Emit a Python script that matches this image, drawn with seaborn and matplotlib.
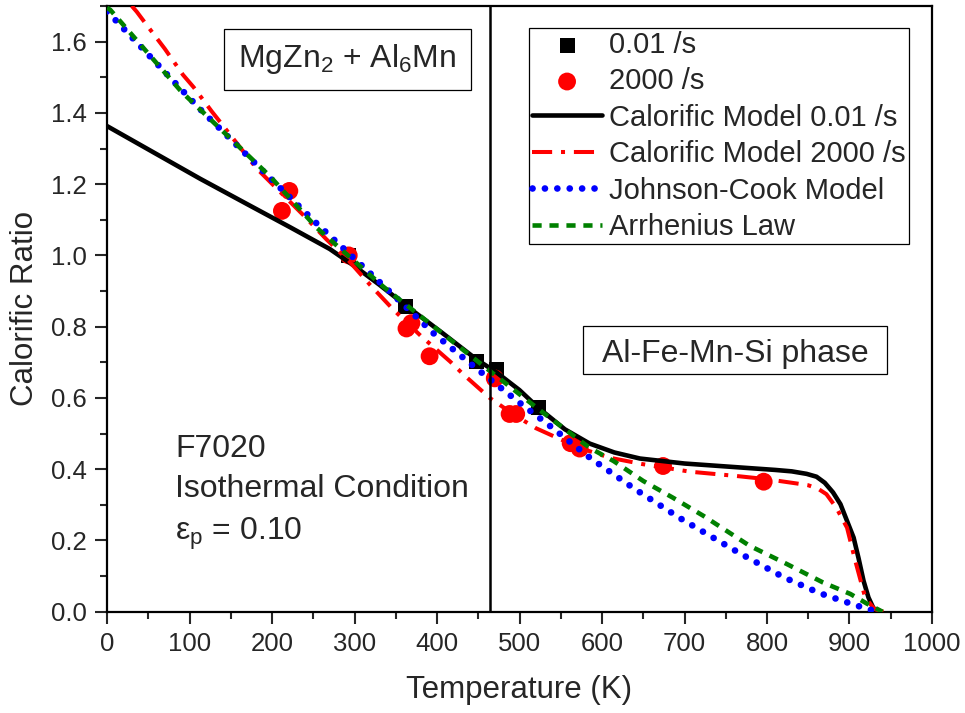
import numpy as np
import pandas as pd
import matplotlib
matplotlib.use("Agg")
import matplotlib.pyplot as plt
from matplotlib.patches import Rectangle
from matplotlib.ticker import MultipleLocator, FormatStrFormatter
import seaborn as sns

# experimental points
T_lo = [293, 362, 448, 472, 523]
r_lo = [1.0, 0.857, 0.703, 0.680, 0.572]
T_hi = [212, 221, 293, 363, 369, 391, 470, 488, 496, 562, 573, 674, 796]
r_hi = [1.125, 1.181, 1.0, 0.795, 0.81, 0.717, 0.655, 0.555, 0.555, 0.473, 0.458, 0.409, 0.365]

# calorific model 0.01 /s
T_cal1 = [0, 113, 173, 222, 270, 300, 330, 363, 405, 448, 472, 500, 523, 555, 585, 615,
          646, 700, 767, 810, 830, 848, 860, 870, 880, 889, 897, 905, 911, 917, 923, 929, 937]
r_cal1 = [1.363, 1.215, 1.140, 1.079, 1.018, 0.970, 0.918, 0.858, 0.785, 0.708, 0.672, 0.622,
          0.572, 0.512, 0.472, 0.447, 0.430, 0.416, 0.405, 0.398, 0.394, 0.387, 0.379, 0.362,
          0.335, 0.302, 0.255, 0.208, 0.150, 0.087, 0.040, 0.010, 0.0]

# calorific model 2000 /s
T_cal2 = [30, 36, 47, 70, 92, 105, 127, 139, 181, 238, 266, 293, 319, 347, 380, 416, 432, 464,
          492, 520, 541, 575, 610, 650, 707, 763, 800, 836, 850, 862, 872, 884, 897, 907, 919,
          930, 941]
r_cal2 = [1.70, 1.684, 1.650, 1.580, 1.507, 1.472, 1.404, 1.369, 1.245, 1.113, 1.045, 0.985,
          0.917, 0.848, 0.775, 0.702, 0.666, 0.600, 0.555, 0.515, 0.493, 0.458, 0.432, 0.414,
          0.393, 0.381, 0.372, 0.360, 0.355, 0.345, 0.330, 0.292, 0.236, 0.143, 0.040, 0.008,
          0.0]

# Johnson-Cook
T_jc = [0, 10, 113, 196, 254, 337, 396, 446, 497, 535, 586, 640, 695, 767, 820, 864, 909, 923, 932]
r_jc = [1.685, 1.661, 1.41, 1.221, 1.090, 0.911, 0.781, 0.686, 0.592, 0.525, 0.431, 0.344,
        0.262, 0.164, 0.097, 0.052, 0.017, 0.008, 0.0]

# Arrhenius
T_arr = [0, 4, 90, 198, 254, 335, 448, 525, 585, 614, 650, 686, 723, 779, 824, 868, 901, 921, 940]
r_arr = [1.695, 1.689, 1.46, 1.221, 1.078, 0.912, 0.705, 0.565, 0.46, 0.423, 0.367, 0.32,
         0.269, 0.185, 0.134, 0.082, 0.050, 0.023, 0.0]

T_split = 464

sns.set_style("ticks")
plt.rcParams['font.family'] = ['Liberation Sans', 'DejaVu Sans']
plt.rcParams['mathtext.fontset'] = 'custom'
plt.rcParams['mathtext.rm'] = 'Liberation Sans'
plt.rcParams['mathtext.it'] = 'Liberation Sans:italic'

fig, ax = plt.subplots(figsize=(9.65, 7.13), dpi=100)
fig.subplots_adjust(left=0.1109, right=0.9658, bottom=0.142, top=0.9916)

sns.scatterplot(x=T_lo, y=r_lo, marker='s', s=115, color='black', edgecolor='none',
                label='0.01 /s', ax=ax, zorder=2)
sns.scatterplot(x=T_hi, y=r_hi, marker='o', s=165, color='red', edgecolor='none',
                label='2000 /s', ax=ax, zorder=3)
sns.lineplot(x=T_cal1, y=r_cal1, color='black', linewidth=3.3, sort=False, estimator=None,
             label='Calorific Model 0.01 /s', ax=ax, zorder=4)
sns.lineplot(x=T_cal2, y=r_cal2, color='red', linewidth=2.9, sort=False, estimator=None,
             linestyle=(0, (5, 2.2, 1, 2.2)), label='Calorific Model 2000 /s', ax=ax, zorder=5)
sns.lineplot(x=T_jc, y=r_jc, color='blue', linewidth=4.8, sort=False, estimator=None,
             linestyle=(0, (0.01, 1.85)), dash_capstyle='round',
             label='Johnson-Cook Model', ax=ax, zorder=6)
sns.lineplot(x=T_arr, y=r_arr, color='green', linewidth=3.3, sort=False, estimator=None,
             linestyle=(0, (2, 1.7)), label='Arrhenius Law', ax=ax, zorder=7)
ax.axvline(T_split, color='black', lw=1.8, zorder=8)

ax.set_xlim(0, 1000)
ax.set_ylim(0, 1.7)
ax.xaxis.set_major_locator(MultipleLocator(100))
ax.xaxis.set_minor_locator(MultipleLocator(50))
ax.yaxis.set_major_locator(MultipleLocator(0.2))
ax.yaxis.set_minor_locator(MultipleLocator(0.1))
ax.yaxis.set_major_formatter(FormatStrFormatter('%.1f'))
ax.tick_params(which='major', direction='out', length=8.6, width=1.5, labelsize=18.5, pad=6)
ax.tick_params(which='minor', direction='out', length=5, width=1.5)
for sp in ax.spines.values():
    sp.set_linewidth(1.6)
    sp.set_color('black')

ax.set_xlabel('Temperature (K)', fontsize=22.5, labelpad=14)
ax.set_ylabel('Calorific Ratio', fontsize=22.5, labelpad=8)

handles, labels = ax.get_legend_handles_labels()
leg = ax.legend(handles, labels, loc='upper right', bbox_to_anchor=(0.972, 0.964),
                fontsize=21, frameon=True, fancybox=False, framealpha=1,
                edgecolor='black', borderpad=0.1, labelspacing=0.29,
                handlelength=2.4, handletextpad=0.25, borderaxespad=0)
leg.get_frame().set_linewidth(0.9)
leg.set_zorder(20)

# phase boxes
ax.add_patch(Rectangle((0.1418, 0.861), 0.2994, 0.101, transform=ax.transAxes,
                       fill=False, edgecolor='black', lw=0.9, zorder=9))
ax.text(0.2915, 0.899, 'MgZn$_\\mathregular{2}$ + Al$_\\mathregular{6}$Mn', transform=ax.transAxes,
        ha='center', va='baseline', fontsize=23)
ax.add_patch(Rectangle((0.577, 0.3924), 0.3685, 0.0793, transform=ax.transAxes,
                       fill=False, edgecolor='black', lw=0.9, zorder=9))
ax.text(0.761, 0.412, 'Al-Fe-Mn-Si phase', transform=ax.transAxes,
        ha='center', va='baseline', fontsize=23)

ax.text(0.0824, 0.256, 'F7020', transform=ax.transAxes, va='baseline', fontsize=23)
ax.text(0.0824, 0.190, 'Isothermal Condition', transform=ax.transAxes, va='baseline', fontsize=23)
ax.text(0.0824, 0.118, 'ε$_\\mathregular{p}$ = 0.10', transform=ax.transAxes, va='baseline', fontsize=23)

fig.savefig('out.png', dpi=100)
